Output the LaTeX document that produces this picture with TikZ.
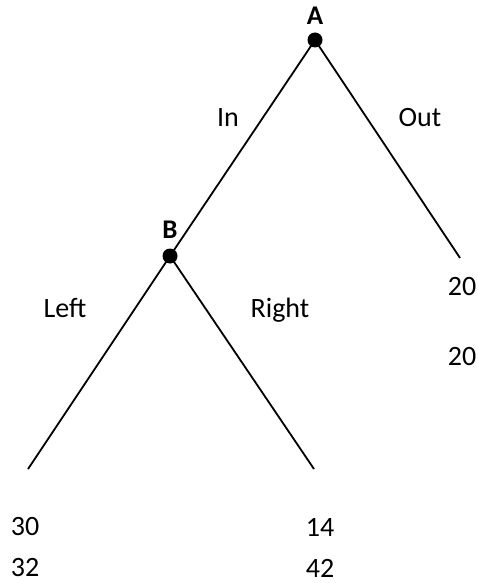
\documentclass[tikz,border=0pt]{standalone}
\usepackage{fontspec}
\setmainfont{Carlito}
\begin{document}
\begin{tikzpicture}[x=1pt,y=-1pt,
  edge/.style={line width=1.8pt,black},
  dot/.style={circle,fill=black,inner sep=0pt,minimum size=15pt},
  lbl/.style={font=\fontsize{28}{32}\selectfont,inner sep=0pt},
  plbl/.style={font=\fontsize{27}{31}\selectfont\bfseries,inner sep=0pt}]
\useasboundingbox (0,0) rectangle (478,583);
\node[dot] (A) at (315,40) {};
\node[dot] (B) at (170,256) {};
\coordinate (O) at (460,258);
\coordinate (L) at (28,469);
\coordinate (R) at (314,469);
\draw[edge] (A.center) -- (B.center);
\draw[edge] (A.center) -- (O);
\draw[edge] (B.center) -- (L);
\draw[edge] (B.center) -- (R);
\node[plbl] (tA) at (315,16) {A};
\node[plbl] (tB) at (170,230) {B};
\node[lbl] (tIn) at (228,118) {In};
\node[lbl] (tOut) at (420,118) {Out};
\node[lbl] (tLeft) at (65,308) {Left};
\node[lbl] (tRight) at (280,310) {Right};
\node[lbl] (o1) at (462,287) {20};
\node[lbl] (o2) at (462,357) {20};
\node[lbl] (l1) at (25,527) {30};
\node[lbl] (l2) at (25,568) {32};
\node[lbl] (r1) at (320,527) {14};
\node[lbl] (r2) at (320,568) {42};
\end{tikzpicture}
\end{document}
